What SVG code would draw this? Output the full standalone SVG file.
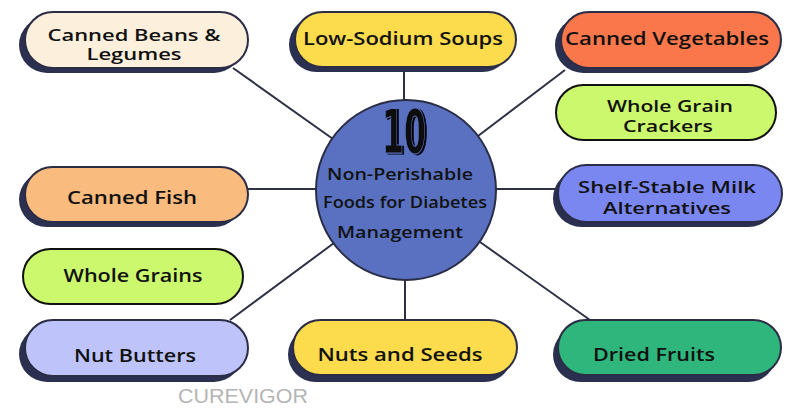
<svg xmlns="http://www.w3.org/2000/svg" width="800" height="419" viewBox="0 0 800 419">
<style>
.bg{fill:#ffffff}
.shadow{fill:#2c3050}
.pill{stroke:#2a2d45;stroke-width:2}
.pill2{stroke:#111111;stroke-width:2}
.lbl{font-family:"Open Sans","Lato","Liberation Sans",sans-serif;font-weight:600;font-size:18.5px;fill:#111111;text-anchor:middle}
.lbl2{font-family:"Open Sans","Lato","Liberation Sans",sans-serif;font-weight:600;font-size:17px;fill:#111111;text-anchor:middle}
.ctr{font-family:"Open Sans","Lato","Liberation Sans",sans-serif;font-weight:600;font-size:17px;fill:#111111;text-anchor:middle}
.conn{stroke:#2e3146;stroke-width:2;fill:none}
.num{font-family:"DejaVu Sans Condensed","DejaVu Sans",sans-serif;font-weight:bold;font-size:60px;text-anchor:middle}
.wm{font-family:"Liberation Sans",Arial,sans-serif;font-size:21px;fill:#b5b5b5}
</style>
<defs>
  <filter id="depth" x="-20%" y="-20%" width="140%" height="140%">
    <feOffset in="SourceAlpha" dx="2" dy="1" result="off"/>
    <feFlood flood-color="#000000"/>
    <feComposite in2="off" operator="in" result="sh"/>
    <feMerge><feMergeNode in="sh"/><feMergeNode in="SourceGraphic"/></feMerge>
  </filter>
</defs>
<rect class="bg" x="0" y="0" width="800" height="419"/>
<g id="connectors">
  <line class="conn" x1="233" y1="68" x2="333" y2="139"/>
  <line class="conn" x1="404" y1="67" x2="404" y2="101"/>
  <line class="conn" x1="565" y1="70" x2="478" y2="136"/>
  <line class="conn" x1="248" y1="189" x2="317" y2="189"/>
  <line class="conn" x1="495" y1="189" x2="558" y2="189"/>
  <line class="conn" x1="230" y1="320" x2="334" y2="243"/>
  <line class="conn" x1="405" y1="279" x2="405" y2="320"/>
  <line class="conn" x1="590" y1="320" x2="480" y2="242"/>
</g>
<g id="center">
  <circle cx="406" cy="190" r="90" fill="#5a71c2" stroke="#2a2d45" stroke-width="2"/>
  <text class="num" x="404" y="153" textLength="44" lengthAdjust="spacingAndGlyphs" fill="#0a0a0a" stroke="#5a71c2" stroke-width="0.8" filter="url(#depth)">10</text>
  <text class="ctr" x="400" y="180" textLength="146" lengthAdjust="spacingAndGlyphs">Non-Perishable</text>
  <text class="ctr" x="405" y="208" textLength="164" lengthAdjust="spacingAndGlyphs">Foods for Diabetes</text>
  <text class="ctr" x="400" y="238" textLength="126" lengthAdjust="spacingAndGlyphs">Management</text>
</g>
<g id="node-beans">
  <rect class="shadow" x="19" y="17" width="223" height="56" rx="28"/>
  <rect class="pill" x="25" y="12" width="223" height="56" rx="28" fill="#fcf0dc"/>
  <text class="lbl2" x="134" y="41" textLength="173" lengthAdjust="spacingAndGlyphs">Canned Beans &amp;</text>
  <text class="lbl2" x="134" y="60" textLength="95" lengthAdjust="spacingAndGlyphs">Legumes</text>
</g>
<g id="node-soups">
  <rect class="shadow" x="289" y="17" width="221" height="55" rx="27.5"/>
  <rect class="pill" x="295" y="12" width="221" height="55" rx="27.5" fill="#fcdc4c"/>
  <text class="lbl" x="403" y="45" textLength="200" lengthAdjust="spacingAndGlyphs">Low-Sodium Soups</text>
</g>
<g id="node-vegetables">
  <rect class="shadow" x="555" y="17" width="220" height="56" rx="28"/>
  <rect class="pill" x="561" y="12" width="220" height="56" rx="28" fill="#f9774b"/>
  <text class="lbl" x="667" y="45" textLength="204" lengthAdjust="spacingAndGlyphs">Canned Vegetables</text>
</g>
<g id="node-crackers">
  <rect class="pill2" x="556" y="85" width="220" height="55" rx="27.5" fill="#cbf86c"/>
  <text class="lbl2" x="670" y="112" textLength="126" lengthAdjust="spacingAndGlyphs">Whole Grain</text>
  <text class="lbl2" x="668" y="132" textLength="90" lengthAdjust="spacingAndGlyphs">Crackers</text>
</g>
<g id="node-fish">
  <rect class="shadow" x="19" y="172" width="223" height="55" rx="27.5"/>
  <rect class="pill" x="25" y="167" width="223" height="55" rx="27.5" fill="#f9bb7e"/>
  <text class="lbl" x="132" y="204" textLength="130" lengthAdjust="spacingAndGlyphs">Canned Fish</text>
</g>
<g id="node-grains">
  <rect class="pill2" x="23" y="249" width="220" height="55" rx="27.5" fill="#cbf86c"/>
  <text class="lbl" x="133" y="282" textLength="139" lengthAdjust="spacingAndGlyphs">Whole Grains</text>
</g>
<g id="node-milk">
  <rect class="shadow" x="553" y="170" width="224" height="57" rx="28.5"/>
  <rect class="pill" x="558" y="165" width="224" height="57" rx="28.5" fill="#7b87f1"/>
  <text class="lbl2" x="667" y="193" textLength="178" lengthAdjust="spacingAndGlyphs">Shelf-Stable Milk</text>
  <text class="lbl2" x="667" y="214" textLength="128" lengthAdjust="spacingAndGlyphs">Alternatives</text>
</g>
<g id="node-nutbutters">
  <rect class="shadow" x="19" y="326" width="223" height="56" rx="28"/>
  <rect class="pill" x="25" y="320" width="223" height="56" rx="28" fill="#bec4fa"/>
  <text class="lbl" x="135" y="362" textLength="122" lengthAdjust="spacingAndGlyphs">Nut Butters</text>
</g>
<g id="node-nutsseeds">
  <rect class="shadow" x="288" y="327" width="224" height="55" rx="27.5"/>
  <rect class="pill" x="293" y="320" width="224" height="55" rx="27.5" fill="#fcdc4c"/>
  <text class="lbl" x="400" y="361" textLength="165" lengthAdjust="spacingAndGlyphs">Nuts and Seeds</text>
</g>
<g id="node-dried">
  <rect class="shadow" x="553" y="327" width="223" height="55" rx="27.5"/>
  <rect class="pill" x="558" y="320" width="223" height="55" rx="27.5" fill="#2eb67d"/>
  <text class="lbl" x="654" y="361" textLength="122" lengthAdjust="spacingAndGlyphs">Dried Fruits</text>
</g>
<text class="wm" x="178" y="403" textLength="130" lengthAdjust="spacingAndGlyphs">CUREVIGOR</text>
</svg>
